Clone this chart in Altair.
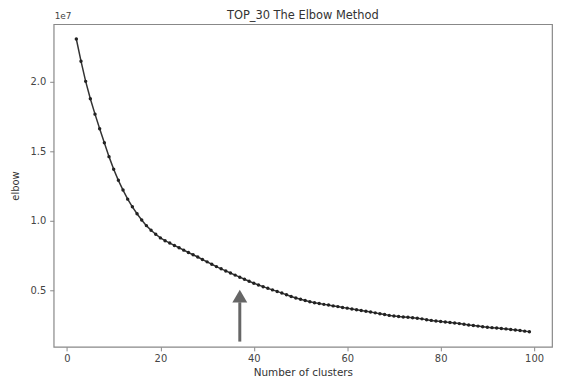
import altair as alt
import pandas as pd

clusters = list(range(2, 100))
elbow_e7 = [
    2.304, 2.145, 2.00, 1.875, 1.765, 1.66, 1.56, 1.46, 1.37, 1.29,
    1.22, 1.155, 1.10, 1.05, 1.005, 0.965, 0.932, 0.903, 0.877, 0.857,
    0.840, 0.823, 0.806, 0.789, 0.772, 0.756, 0.740, 0.722, 0.705, 0.688,
    0.671, 0.655, 0.64, 0.625, 0.61, 0.595, 0.58, 0.566, 0.552, 0.539,
    0.527, 0.515, 0.504, 0.493, 0.481, 0.469, 0.457, 0.446, 0.437, 0.428,
    0.419, 0.412, 0.406, 0.400, 0.395, 0.389, 0.384, 0.378, 0.373, 0.367,
    0.362, 0.356, 0.351, 0.345, 0.339, 0.333, 0.327, 0.321, 0.316, 0.313,
    0.310, 0.307, 0.304, 0.301, 0.296, 0.290, 0.285, 0.280, 0.277, 0.273,
    0.270, 0.266, 0.262, 0.257, 0.252, 0.248, 0.244, 0.240, 0.236, 0.233,
    0.230, 0.227, 0.224, 0.220, 0.216, 0.212, 0.208, 0.204, 0.200,
][:len(clusters)]
elbow = [v * 1e7 for v in elbow_e7]

x_ticks = [0, 20, 40, 60, 80, 100]
y_ticks = [5e6, 1e7, 1.5e7, 2e7]

arrow_x = [37]
arrow_tail = [0.133e7]
arrow_base = [0.415e7]
arrow_head_center = [0.4595e7]

title_text = ["TOP_30 The Elbow Method"]

df = pd.DataFrame({"k": clusters, "elbow": elbow})
arr = pd.DataFrame({"x": arrow_x, "y": arrow_tail, "y2": arrow_base, "yh": arrow_head_center})

font = "DejaVu Sans"
xs = alt.Scale(domain=[-2.85, 103.85], nice=False, zero=False)
ys = alt.Scale(domain=[0.095e7, 2.41e7], nice=False, zero=False)

xaxis = alt.Axis(values=x_ticks, title="Number of clusters", grid=False, domain=False,
                 tickColor="#888", tickSize=4, labelColor="#444", labelFontSize=10,
                 labelFont=font, titleFont=font, titleFontSize=10.5, titleColor="#333",
                 titleFontWeight="normal", titlePadding=4, labelPadding=3)
yaxis = alt.Axis(values=y_ticks, title="elbow", grid=False, domain=False,
                 labelExpr="format(datum.value/1e7, '.1f')",
                 tickColor="#888", tickSize=4, labelColor="#444", labelFontSize=10,
                 labelFont=font, titleFont=font, titleFontSize=10, titleColor="#333",
                 titleFontWeight="normal", titlePadding=10, labelPadding=4)

line = alt.Chart(df).mark_line(color="#333", strokeWidth=1.5).encode(
    x=alt.X("k:Q", scale=xs, axis=xaxis),
    y=alt.Y("elbow:Q", scale=ys, axis=yaxis),
)
pts = alt.Chart(df).mark_point(shape="circle", filled=True, size=12, color="#222", opacity=1).encode(
    x=alt.X("k:Q", scale=xs), y=alt.Y("elbow:Q", scale=ys)
)
shaft = alt.Chart(arr).mark_rule(color="#666", strokeWidth=3).encode(
    x=alt.X("x:Q", scale=xs), y=alt.Y("y:Q", scale=ys), y2="y2:Q"
)
head = alt.Chart(arr).mark_point(shape="triangle-up", filled=True, size=225, color="#666", opacity=1).encode(
    x=alt.X("x:Q", scale=xs), y=alt.Y("yh:Q", scale=ys)
)
exp = alt.Chart(pd.DataFrame({"t": ["1e7"]})).mark_text(
    align="left", baseline="bottom", font=font, fontSize=9, color="#444"
).encode(x=alt.value(1), y=alt.value(-3), text="t:N")
title = alt.Chart(pd.DataFrame({"t": title_text})).mark_text(
    align="center", baseline="middle", font=font, fontSize=11.5, color="#333"
).encode(x=alt.value(251), y=alt.value(-8), text="t:N")

chart = alt.layer(line, pts, shaft, head, exp, title).properties(
    width=502, height=325,
    autosize=alt.AutoSizeParams(type="none"),
    padding={"left": 46, "top": 15, "right": 5, "bottom": 30},
).configure_view(stroke="#888", strokeWidth=1.2)

chart.save("out.html", embed_options={"renderer": "svg", "actions": False})
